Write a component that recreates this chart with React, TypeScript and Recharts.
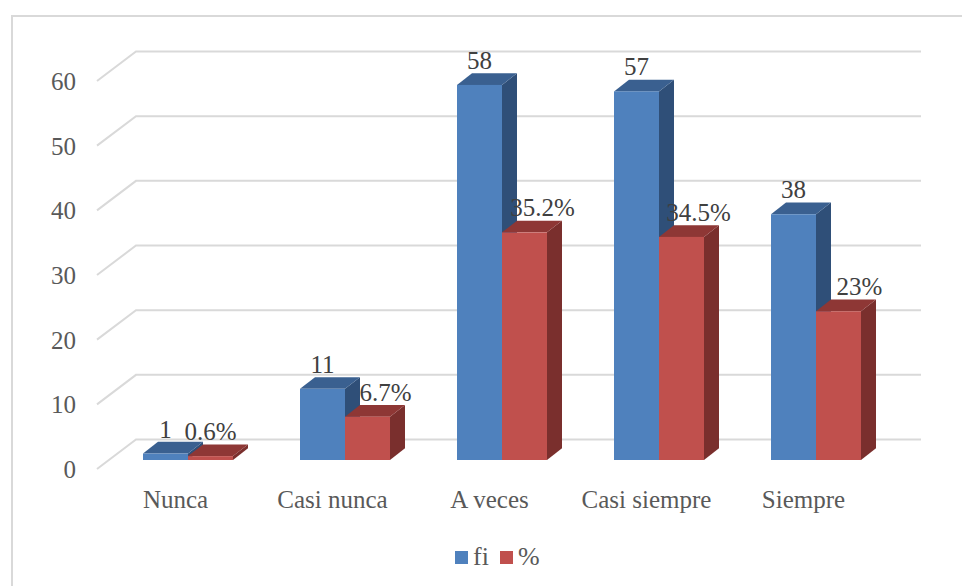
import React from "react";
import { BarChart, Bar, XAxis, YAxis, CartesianGrid, Legend, LabelList } from "recharts";

const categories = ["Nunca", "Casi nunca", "A veces", "Casi siempre", "Siempre"];
const fi = [1, 11, 58, 57, 38];
const pct = [0.6, 6.7, 35.2, 34.5, 23];
const pctText = ["0.6%", "6.7%", "35.2%", "34.5%", "23%"];

const rows = categories.map((name, i) => ({ name, fi: fi[i], pct: pct[i], pctText: pctText[i] }));

const FONT = "'Liberation Serif', serif";

// Oblique projection: the bars sit part-way into the floor, the wall lies behind them.
const BAR_SHIFT = { x: 12, y: -9 };
const BAR_DEPTH = { x: 15, y: -11.7 };
const WALL_DEPTH = { x: 39, y: -29.5 };

// Sideways nudges for the percentage labels, so they clear the neighbouring column.
const pctLabelNudge = [0, 18, 18, 17, 21];

type Box3DProps = { x: number; y: number; width: number; height: number; front: string; top: string; side: string };

function Box3D({ x, y, width, height, front, top, side }: Box3DProps) {
  const l = x + BAR_SHIFT.x;
  const t = y + BAR_SHIFT.y;
  const r = l + width;
  const b = t + height;
  const dx = BAR_DEPTH.x;
  const dy = BAR_DEPTH.y;
  return (
    <g>
      <polygon points={`${r},${t} ${r + dx},${t + dy} ${r + dx},${b + dy} ${r},${b}`} fill={side} />
      <polygon points={`${l},${t} ${l + dx},${t + dy} ${r + dx},${t + dy} ${r},${t}`} fill={top} />
      <rect x={l} y={t} width={width} height={height} fill={front} />
    </g>
  );
}

const blueShape = (p: any) => <Box3D x={p.x} y={p.y} width={p.width} height={p.height} front="#4F81BD" top="#3A6090" side="#2F4F78" />;
const redShape = (p: any) => <Box3D x={p.x} y={p.y} width={p.width} height={p.height} front="#C0504D" top="#8E3735" side="#7A2F2D" />;

function WallLine(p: any) {
  const { x1, x2, y1 } = p;
  return (
    <path
      d={`M${x1},${y1} L${x1 + WALL_DEPTH.x},${y1 + WALL_DEPTH.y} L${x2 + WALL_DEPTH.x},${y1 + WALL_DEPTH.y}`}
      fill="none"
      stroke="#D9D9D9"
      strokeWidth={2}
    />
  );
}

function ValueLabel(p: any) {
  const { x, y, width, value, index, nudges } = p;
  const nudge = nudges ? nudges[index] : 0;
  return (
    <text
      x={x + width / 2 + BAR_SHIFT.x + nudge}
      y={y + BAR_SHIFT.y - 16}
      textAnchor="middle"
      fontFamily={FONT}
      fontSize={25}
      fill="#404040"
    >
      {value}
    </text>
  );
}

function LegendBox() {
  const entries = [
    { label: "fi", color: "#4F81BD" },
    { label: "%", color: "#C0504D" },
  ];
  return (
    <div style={{ display: "flex", fontFamily: FONT, fontSize: 26, color: "#595959", lineHeight: "28px" }}>
      {entries.map((e) => (
        <div key={e.label} style={{ display: "flex", alignItems: "center", marginRight: 11 }}>
          <span style={{ width: 13, height: 13, background: e.color, marginRight: 5, display: "inline-block" }} />
          <span>{e.label}</span>
        </div>
      ))}
    </div>
  );
}

export default function App() {
  return (
    <div style={{ position: "absolute", left: 0, top: 0, width: 962, height: 586, background: "#fff", overflow: "hidden" }}>
      <div
        style={{
          position: "absolute",
          left: 11,
          top: 15,
          width: 1000,
          height: 620,
          border: "2px solid #D9D9D9",
          boxSizing: "border-box",
        }}
      />
      <BarChart
        width={962}
        height={586}
        data={rows}
        margin={{ left: 0, right: 80, top: 81, bottom: 0 }}
        barSize={45}
        barGap={0}
        style={{ position: "absolute", left: 0, top: 0 }}
      >
        <CartesianGrid vertical={false} horizontal={WallLine} />
        <XAxis
          dataKey="name"
          axisLine={false}
          tickLine={false}
          height={89}
          tickMargin={15}
          interval={0}
          tick={{ fontFamily: FONT, fontSize: 25, fill: "#595959" }}
        />
        <YAxis
          width={97}
          domain={[0, 60]}
          ticks={[0, 10, 20, 30, 40, 50, 60]}
          axisLine={false}
          tickLine={false}
          tickMargin={15}
          tick={{ fontFamily: FONT, fontSize: 25, fill: "#595959" }}
        />
        <Legend content={<LegendBox />} wrapperStyle={{ left: 455, top: 543, width: "auto" }} />
        <Bar dataKey="fi" name="fi" shape={blueShape} isAnimationActive={false}>
          <LabelList dataKey="fi" content={<ValueLabel />} />
        </Bar>
        <Bar dataKey="pct" name="%" shape={redShape} isAnimationActive={false}>
          <LabelList dataKey="pctText" content={<ValueLabel nudges={pctLabelNudge} />} />
        </Bar>
      </BarChart>
    </div>
  );
}
